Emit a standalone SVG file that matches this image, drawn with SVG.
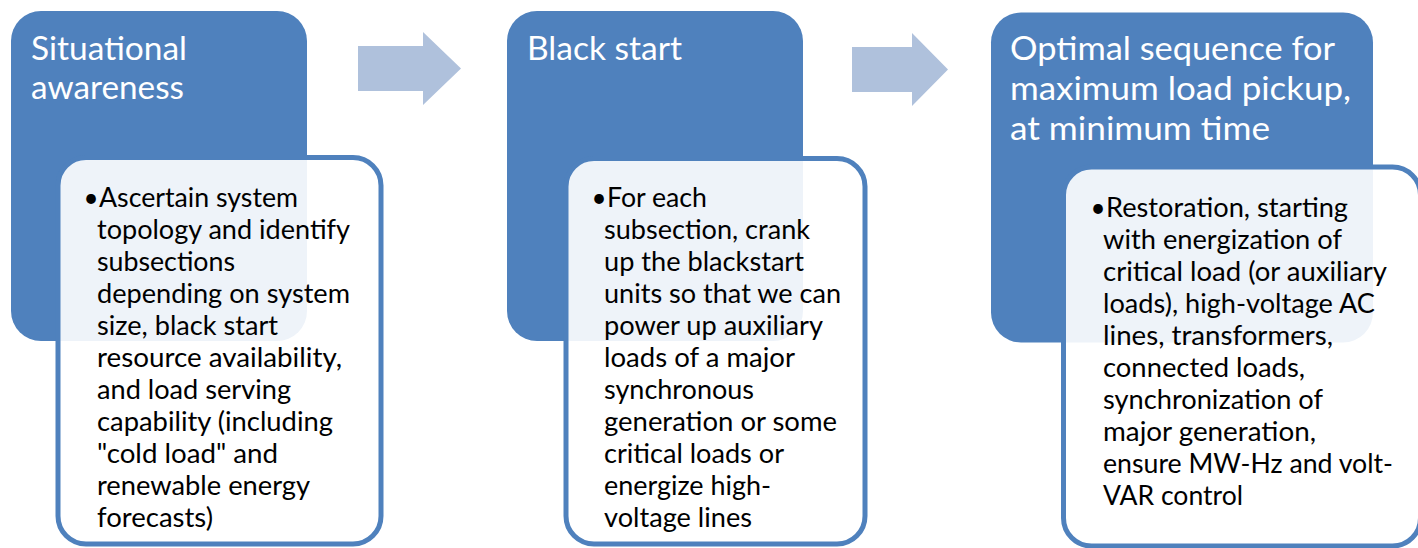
<svg xmlns="http://www.w3.org/2000/svg" width="1418" height="548" viewBox="0 0 1418 548">
<style>
.stage{fill:#4F81BD;}
.card{fill:#FFFFFF;fill-opacity:0.9;stroke:#4F81BD;stroke-width:5;}
.title{font-family:Lato,"Open Sans","DejaVu Sans",sans-serif;font-size:33px;fill:#FFFFFF;}
.body{font-family:Lato,"Open Sans","DejaVu Sans",sans-serif;font-size:26px;fill:#000000;}
.bullet{font-family:Lato,"Open Sans","DejaVu Sans",sans-serif;font-size:26px;fill:#000000;text-anchor:middle;}
.arrow{fill:#AFC1DC;}
</style>
<rect width="1418" height="548" fill="#FFFFFF"/>
<g id="connectors">
<path class="arrow" d="M358,46 L423,46 L423,32 L461,68.5 L423,105 L423,91 L358,91 Z"/>
<path class="arrow" d="M852,47 L912,47 L912,33 L948,69.5 L912,106 L912,92 L852,92 Z"/>
</g>
<g id="node-situational-awareness">
<rect class="stage" x="11" y="11" width="296" height="330" rx="30"/>
<text class="title" x="31" y="59.5" textLength="156" lengthAdjust="spacingAndGlyphs">Situational</text>
<text class="title" x="31" y="99" textLength="153" lengthAdjust="spacingAndGlyphs">awareness</text>
<rect class="card" x="58" y="157.5" width="323" height="386.5" rx="28"/>
<text class="bullet" x="91" y="207">•</text>
<text class="body" x="99" y="207" textLength="199" lengthAdjust="spacingAndGlyphs">Ascertain system</text>
<text class="body" x="97" y="239" textLength="253" lengthAdjust="spacingAndGlyphs">topology and identify</text>
<text class="body" x="97" y="271" textLength="138" lengthAdjust="spacingAndGlyphs">subsections</text>
<text class="body" x="97" y="303" textLength="253" lengthAdjust="spacingAndGlyphs">depending on system</text>
<text class="body" x="97" y="335" textLength="181" lengthAdjust="spacingAndGlyphs">size, black start</text>
<text class="body" x="97" y="367" textLength="245" lengthAdjust="spacingAndGlyphs">resource availability,</text>
<text class="body" x="97" y="399" textLength="194" lengthAdjust="spacingAndGlyphs">and load serving</text>
<text class="body" x="97" y="431" textLength="236" lengthAdjust="spacingAndGlyphs">capability (including</text>
<text class="body" x="97" y="463" textLength="181" lengthAdjust="spacingAndGlyphs">"cold load" and</text>
<text class="body" x="97" y="495" textLength="213" lengthAdjust="spacingAndGlyphs">renewable energy</text>
<text class="body" x="97" y="527" textLength="116" lengthAdjust="spacingAndGlyphs">forecasts)</text>
</g>
<g id="node-black-start">
<rect class="stage" x="507" y="11" width="296" height="330" rx="30"/>
<text class="title" x="527" y="59.5" textLength="155" lengthAdjust="spacingAndGlyphs">Black start</text>
<rect class="card" x="566" y="158.5" width="299" height="385.5" rx="28"/>
<text class="bullet" x="599" y="207">•</text>
<text class="body" x="607" y="207" textLength="100" lengthAdjust="spacingAndGlyphs">For each</text>
<text class="body" x="604" y="239" textLength="206" lengthAdjust="spacingAndGlyphs">subsection, crank</text>
<text class="body" x="604" y="271" textLength="200" lengthAdjust="spacingAndGlyphs">up the blackstart</text>
<text class="body" x="604" y="303" textLength="237" lengthAdjust="spacingAndGlyphs">units so that we can</text>
<text class="body" x="604" y="335" textLength="219" lengthAdjust="spacingAndGlyphs">power up auxiliary</text>
<text class="body" x="604" y="367" textLength="191" lengthAdjust="spacingAndGlyphs">loads of a major</text>
<text class="body" x="604" y="399" textLength="150" lengthAdjust="spacingAndGlyphs">synchronous</text>
<text class="body" x="604" y="431" textLength="233" lengthAdjust="spacingAndGlyphs">generation or some</text>
<text class="body" x="604" y="463" textLength="180" lengthAdjust="spacingAndGlyphs">critical loads or</text>
<text class="body" x="604" y="495" textLength="167" lengthAdjust="spacingAndGlyphs">energize high-</text>
<text class="body" x="604" y="527" textLength="148" lengthAdjust="spacingAndGlyphs">voltage lines</text>
</g>
<g id="node-optimal-sequence">
<rect class="stage" x="991" y="12.5" width="382" height="330" rx="30"/>
<text class="title" x="1010" y="60" textLength="325" lengthAdjust="spacingAndGlyphs">Optimal sequence for</text>
<text class="title" x="1010" y="100" textLength="341" lengthAdjust="spacingAndGlyphs">maximum load pickup,</text>
<text class="title" x="1010" y="140" textLength="260" lengthAdjust="spacingAndGlyphs">at minimum time</text>
<rect class="card" x="1063.5" y="167" width="357" height="379" rx="28"/>
<text class="bullet" x="1098" y="216.5">•</text>
<text class="body" x="1106" y="216.5" textLength="242" lengthAdjust="spacingAndGlyphs">Restoration, starting</text>
<text class="body" x="1103" y="248.5" textLength="239" lengthAdjust="spacingAndGlyphs">with energization of</text>
<text class="body" x="1103" y="280.5" textLength="284" lengthAdjust="spacingAndGlyphs">critical load (or auxiliary</text>
<text class="body" x="1103" y="312.5" textLength="272" lengthAdjust="spacingAndGlyphs">loads), high-voltage AC</text>
<text class="body" x="1103" y="344.5" textLength="230" lengthAdjust="spacingAndGlyphs">lines, transformers,</text>
<text class="body" x="1103" y="376.5" textLength="202" lengthAdjust="spacingAndGlyphs">connected loads,</text>
<text class="body" x="1103" y="408.5" textLength="220" lengthAdjust="spacingAndGlyphs">synchronization of</text>
<text class="body" x="1103" y="440.5" textLength="213" lengthAdjust="spacingAndGlyphs">major generation,</text>
<text class="body" x="1103" y="472.5" textLength="290" lengthAdjust="spacingAndGlyphs">ensure MW-Hz and volt-</text>
<text class="body" x="1103" y="504.5" textLength="140" lengthAdjust="spacingAndGlyphs">VAR control</text>
</g>
</svg>
